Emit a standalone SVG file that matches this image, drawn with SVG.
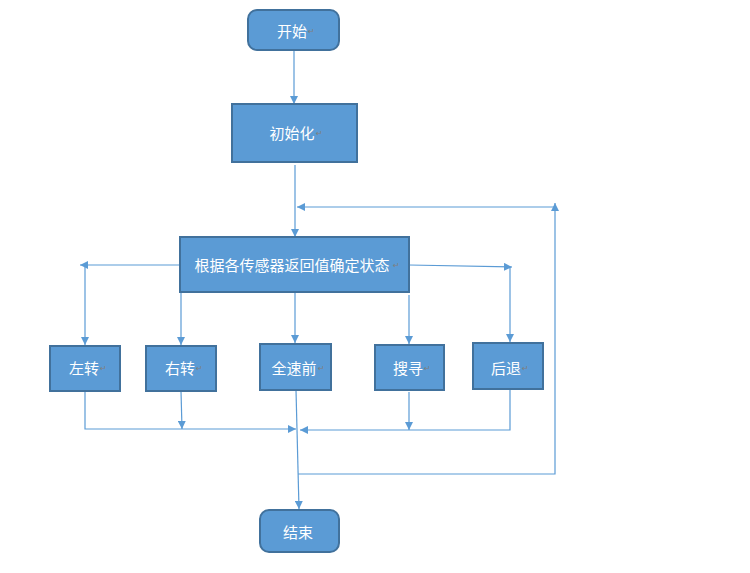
<svg xmlns="http://www.w3.org/2000/svg" width="750" height="573" viewBox="0 0 750 573">
<style>
.n{fill:#5b9bd5;stroke:#41719c;stroke-width:2}
.t{font-family:"Noto Sans CJK SC",sans-serif;font-size:15px;fill:#fff;text-anchor:middle;dominant-baseline:central}
.m{font-family:"DejaVu Sans",sans-serif;font-size:8px;fill:#7f7f7f}
.c path{fill:none;stroke:#5b9bd5;stroke-width:1.2}
</style>
<defs><marker id="a" viewBox="0 0 10 10" refX="10" refY="5" markerWidth="8" markerHeight="8" orient="auto" markerUnits="userSpaceOnUse"><path d="M0,0L10,5L0,10z" fill="#5b9bd5"/></marker></defs>
<rect width="750" height="573" fill="#fff"/>
<g class="c">
<path d="M294,50V104" marker-end="url(#a)"/>
<path d="M295,165V237" marker-end="url(#a)"/>
<path d="M298,474H555V203" marker-end="url(#a)"/>
<path d="M555,207H297" marker-end="url(#a)"/>
<path d="M180,265H80" marker-end="url(#a)"/>
<path d="M85,265V345" marker-end="url(#a)"/>
<path d="M409,265L512,267" marker-end="url(#a)"/>
<path d="M510,267V342" marker-end="url(#a)"/>
<path d="M181,292V345" marker-end="url(#a)"/>
<path d="M295,292V343" marker-end="url(#a)"/>
<path d="M409,295V344" marker-end="url(#a)"/>
<path d="M85,391V429H296" marker-end="url(#a)"/>
<path d="M181,391L182,429" marker-end="url(#a)"/>
<path d="M510,389V430H300" marker-end="url(#a)"/>
<path d="M409,392V430" marker-end="url(#a)"/>
<path d="M296,390L299,509" marker-end="url(#a)"/>
</g>
<g id="start"><rect class="n" x="248" y="10" width="91" height="40" rx="9"/><text class="t" x="292" y="30">开始</text><text class="m" x="308" y="34">↵</text></g>
<g id="init"><rect class="n" x="232" y="104" width="125" height="58"/><text class="t" x="292" y="132">初始化</text><text class="m" x="316" y="136">↵</text></g>
<g id="state"><rect class="n" x="180" y="237" width="229" height="55"/><text class="t" x="292" y="264">根据各传感器返回值确定状态</text><text class="m" x="393" y="268">↵</text></g>
<g id="left"><rect class="n" x="50" y="346" width="70" height="45"/><text class="t" x="84" y="367">左转</text><text class="m" x="100" y="371">↵</text></g>
<g id="right"><rect class="n" x="146" y="346" width="70" height="45"/><text class="t" x="180" y="367">右转</text><text class="m" x="196" y="371">↵</text></g>
<g id="fwd"><rect class="n" x="260" y="344" width="71" height="46"/><text class="t" x="294" y="367">全速前</text><text class="m" x="318" y="371">↵</text></g>
<g id="search"><rect class="n" x="375" y="345" width="69" height="45"/><text class="t" x="408" y="367">搜寻</text><text class="m" x="424" y="371">↵</text></g>
<g id="back"><rect class="n" x="473" y="343" width="70" height="46"/><text class="t" x="506" y="367">后退</text><text class="m" x="522" y="371">↵</text></g>
<g id="end"><rect class="n" x="260" y="510" width="79" height="42" rx="9"/><text class="t" x="298" y="531">结束</text></g>
</svg>
